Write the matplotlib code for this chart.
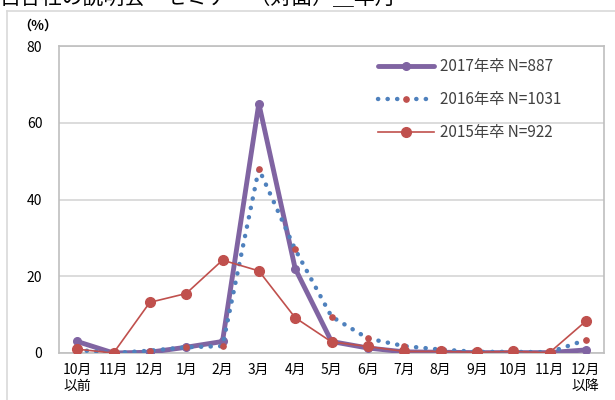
import numpy as np
import matplotlib.pyplot as plt
from matplotlib.lines import Line2D

plt.rcParams['font.family'] = ['Noto Sans CJK JP', 'DejaVu Sans']

# ------  data  -----------------------------------------------------------
months = ['10月\n以前', '11月', '12月', '1月', '2月', '3月', '4月', '5月',
          '6月', '7月', '8月', '9月', '10月', '11月', '12月\n以降']
y2017 = [3.0, 0.0, 0.2, 1.5, 3.0, 65.0, 22.0, 3.0, 1.3, 0.3, 0.2, 0.1, 0.1, 0.1, 0.8]
y2016 = [0.8, 0.0, 0.6, 1.5, 1.8, 48.0, 27.0, 9.5, 3.8, 1.8, 0.9, 0.3, 0.3, 0.2, 3.4]
y2015 = [1.0, 0.0, 13.2, 15.5, 24.2, 21.4, 9.2, 2.9, 1.7, 0.4, 0.4, 0.2, 0.4, 0.1, 8.3]

labels = ['2017年卒 N=887', '2016年卒 N=1031', '2015年卒 N=922']

purple = '#8064A2'
blue = '#4F81BD'
red = '#C0504D'

fig = plt.figure(figsize=(6.15, 4.0), dpi=100)
ax = fig.add_axes([59/615, 47/400, 545/615, 307/400])

x = np.arange(len(months))

ax.plot(x, y2017, color=purple, lw=3.5, marker='o', ms=5.5,
        solid_capstyle='round', label=labels[0], zorder=3)
ax.plot(x, y2016, color=blue, lw=3.2, ls=(0, (0.05, 2.1)), dash_capstyle='round',
        marker='o', ms=3.8, mfc=red, mec=red, label=labels[1], zorder=4)
ax.plot(x, y2015, color=red, lw=1.2, marker='o', ms=7, label=labels[2], zorder=5)

ax.set_xlim(-0.5, 14.5)
ax.set_ylim(0, 80)
ax.set_yticks([0, 20, 40, 60, 80])
ax.set_xticks(x)
ax.set_xticklabels(months)
ax.tick_params(length=0, labelsize=10, colors='black')
ax.tick_params(axis='y', pad=12)
ax.tick_params(axis='x', pad=7)
ax.grid(axis='y', color='#D9D9D9', lw=1.3)
ax.set_axisbelow(True)
for s in ax.spines.values():
    s.set_color('#BFBFBF')
    s.set_linewidth(1.2)

leg = ax.legend(loc='upper left', bbox_to_anchor=(0.585, 0.96), frameon=False,
                fontsize=11, handlelength=3.7, handletextpad=0.4,
                labelspacing=1.05, borderpad=0, borderaxespad=0)
for t in leg.get_texts():
    t.set_color('#404040')

fig.text(38/615, 1 - 26/400, '（%）', ha='center', va='center', fontsize=9.5,
         fontweight='bold')

# cut-off heading and outer frame
fig.text(0.0, 1 - 9/400, '自各社の説明会・セミナー（対面）＿年月', ha='left',
         va='bottom', fontsize=15, color='black')
fig.add_artist(Line2D([7/615, 1.0], [1 - 11/400, 1 - 11/400], color='#D9D9D9', lw=1.2))
fig.add_artist(Line2D([7/615, 7/615], [0, 1 - 11/400], color='#D9D9D9', lw=1.2))

fig.savefig('out.png', dpi=100)
